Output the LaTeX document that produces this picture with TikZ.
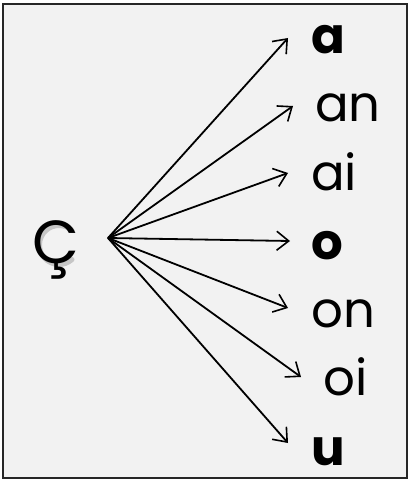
\documentclass[tikz,border=0pt]{standalone}
\usepackage{fontspec}
\setmainfont{Poppins}
\usetikzlibrary{arrows.meta}
\tikzset{
  lbl/.style={anchor=base west, inner sep=0pt, font=\fontsize{50}{50}\selectfont},
  lblb/.style={lbl, font=\fontsize{50}{50}\selectfont\bfseries},
  arr/.style={line width=1.8bp, -{Straight Barb[length=12bp,width=19bp,line width=1.6bp]}},
  bigc/.style={anchor=base west, inner sep=0pt, font=\fontsize{61}{61}\selectfont},
  softshadow/.style={draw=black, line width=5bp, opacity=0.18, line cap=round},
}
\begin{document}
\begin{tikzpicture}[x=1bp,y=-1bp]
\useasboundingbox (0,0) rectangle (412,481);
\draw[line width=2bp, draw=black!85, fill=black!5] (3,4) rectangle (407,478);
% soft shadow behind the source letter
\draw[softshadow] (59,245) ++(48:19.5) arc[start angle=48, end angle=312, radius=19.5];
% source letter
\node[bigc] (c) at (32,263) {Ç};
\coordinate (hub) at (108,238);
% targets
\node[lblb] (ta)  at (311,54)  {a};
\node[lbl]  (tan) at (315,122) {an};
\node[lbl]  (tai) at (311,191) {ai};
\node[lblb] (to)  at (311,259) {o};
\node[lbl]  (ton) at (311,327) {on};
\node[lbl]  (toi) at (323,395) {oi};
\node[lblb] (tu)  at (311,465) {u};
% arrow tips
\coordinate (ea)  at (288,38);
\coordinate (ean) at (293,106);
\coordinate (eai) at (288,173);
\coordinate (eo)  at (290,241);
\coordinate (eon) at (288,308);
\coordinate (eoi) at (301,377);
\coordinate (eu)  at (288,443);
\foreach \e in {ea,ean,eai,eo,eon,eoi,eu}
  \draw[arr] (hub) -- (\e);
\end{tikzpicture}
\end{document}
